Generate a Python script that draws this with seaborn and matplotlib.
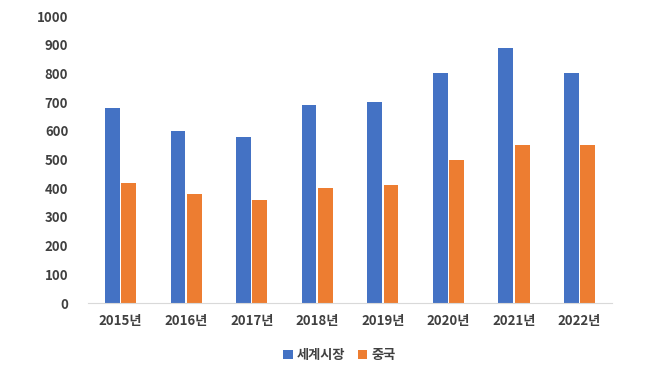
import matplotlib
matplotlib.use("Agg")
import matplotlib.pyplot as plt
import pandas as pd
import seaborn as sns

years = ["2015년", "2016년", "2017년", "2018년", "2019년", "2020년", "2021년", "2022년"]
world = [680, 600, 580, 690, 700, 800, 890, 800]
china = [420, 380, 360, 400, 410, 500, 550, 550]
series_names = ["세계시장", "중국"]
colors = ["#4472C4", "#ED7D31"]

sns.set_style("white")
plt.rcParams["font.family"] = ["Noto Sans CJK KR", "DejaVu Sans"]
plt.rcParams["font.weight"] = "bold"

df = pd.DataFrame({
    "year": years * 2,
    "value": world + china,
    "series": [series_names[0]] * len(years) + [series_names[1]] * len(years),
})

fig = plt.figure(figsize=(6.5, 3.66), dpi=100)
ax = fig.add_axes([0.135, 0.172, 0.807, 0.784])
sns.barplot(data=df, x="year", y="value", hue="series", palette=colors,
            width=0.5, gap=0.1, ax=ax, saturation=1, linewidth=0)

ax.set_ylim(0, 1000)
ax.set_yticks(range(0, 1001, 100))
ax.set_xlim(-0.5, len(years) - 0.5)
ax.set_xlabel("")
ax.set_ylabel("")
for s in ["top", "right", "left"]:
    ax.spines[s].set_visible(False)
ax.spines["bottom"].set_color("#D9D9D9")
ax.tick_params(axis="both", length=0, colors="#404040", labelsize=9.5)
ax.tick_params(axis="y", pad=14)
ax.tick_params(axis="x", pad=8)

ax.legend(loc="upper center", bbox_to_anchor=(0.48, -0.115), ncol=2, frameon=False,
          prop={"size": 9.5, "weight": "bold"}, handlelength=0.7, handleheight=0.7,
          handletextpad=0.3, columnspacing=1.0, labelcolor="#404040")

fig.savefig("out.png", dpi=100)
